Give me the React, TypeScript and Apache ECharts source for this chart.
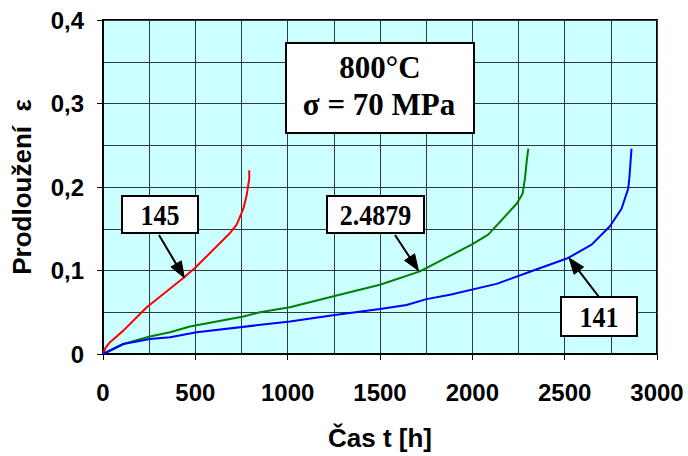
import React, { useEffect, useRef } from "react";
import * as echarts from "echarts";

const T145 = [0, 15, 38, 110, 237, 435, 498, 688, 724, 760, 778, 792, 792];
const E145 = [0, 0.008, 0.0142, 0.028, 0.056, 0.091, 0.103, 0.145, 0.155, 0.174, 0.19, 0.21, 0.22];

const T24879 = [0, 110, 254, 363, 471, 760, 850, 1012, 1265, 1500, 1716, 1996, 2086, 2240, 2272, 2285, 2294, 2303];
const E24879 = [0, 0.012, 0.021, 0.026, 0.033, 0.045, 0.05, 0.056, 0.07, 0.083, 0.099, 0.131, 0.143, 0.18, 0.192, 0.21, 0.23, 0.246];

const T141 = [0, 110, 254, 363, 507, 1012, 1265, 1500, 1644, 1752, 1879, 2131, 2312, 2519, 2646, 2745, 2808, 2844, 2850, 2862];
const E141 = [0, 0.012, 0.018, 0.02, 0.026, 0.039, 0.047, 0.054, 0.0586, 0.0657, 0.071, 0.084, 0.0985, 0.115, 0.131, 0.153, 0.174, 0.198, 0.21, 0.246];

const X_TICKS = [0, 500, 1000, 1500, 2000, 2500, 3000];
const Y_TICKS = ["0", "0,1", "0,2", "0,3", "0,4"];

const TITLE1 = "800°C";
const TITLE2 = "σ = 70 MPa";
const X_NAME = "Čas t [h]";
const Y_NAME = "Prodloužení  ε";

// annotation labels: text, box (pixels), arrow tail (pixels), arrow tip (data)
const ANNOTS = [
  { text: "145", box: [122, 196, 76, 37], tail: [159, 235], tip: [440, 0.0914] },
  { text: "2.4879", box: [327, 196, 97, 37], tail: [395, 235], tip: [1708, 0.1] },
  { text: "141", box: [561, 297, 76, 39], tail: [599, 297], tip: [2524, 0.115] },
];

const zip = (a: number[], b: number[]) => a.map((v, i) => [v, b[i]]);

export default function App() {
  const ref = useRef<HTMLDivElement>(null);
  useEffect(() => {
    if (!ref.current) return;
    const chart = echarts.init(ref.current, null, { renderer: "svg" });
    const labelFont = { fontFamily: "Liberation Sans", fontWeight: "bold" as const, fontSize: 24, color: "#000" };
    const nameFont = { fontFamily: "Liberation Sans", fontWeight: "bold" as const, fontSize: 26, color: "#000" };
    const option: any = {
      animation: false,
      grid: {
        left: 103,
        right: 31,
        top: 20,
        bottom: 99,
        show: true,
        backgroundColor: "#CCFFFF",
        borderColor: "#000",
        borderWidth: 2,
      },
      xAxis: {
        type: "value",
        min: 0,
        max: 3000,
        interval: 500,
        name: X_NAME,
        nameLocation: "middle",
        nameGap: 71,
        nameTextStyle: { ...nameFont },
        axisLine: { show: true, lineStyle: { color: "#000", width: 2 } },
        axisTick: { show: true, length: 6, lineStyle: { color: "#000" } },
        axisLabel: {
          ...labelFont,
          margin: 26,
          formatter: (v: number) => (X_TICKS.includes(v) ? String(v) : ""),
        },
        splitLine: { show: true, lineStyle: { color: "#2b3b3b", width: 1 } },
        minorTick: { show: false, splitNumber: 2 },
        minorSplitLine: { show: true, lineStyle: { color: "#2b3b3b", width: 1 } },
      },
      yAxis: {
        type: "value",
        min: 0,
        max: 0.4,
        interval: 0.1,
        name: Y_NAME,
        nameLocation: "middle",
        nameGap: 68,
        nameTextStyle: { ...nameFont },
        axisLine: { show: true, lineStyle: { color: "#000", width: 2 } },
        axisTick: { show: true, length: 6, lineStyle: { color: "#000" } },
        axisLabel: {
          ...labelFont,
          margin: 19,
          formatter: (v: number) => Y_TICKS[Math.round(v * 10)] ?? "",
        },
        splitLine: { show: true, lineStyle: { color: "#2b3b3b", width: 1 } },
        minorTick: { show: false, splitNumber: 2 },
        minorSplitLine: { show: true, lineStyle: { color: "#2b3b3b", width: 1 } },
      },
      series: [
        { name: "145", type: "line", data: zip(T145, E145), showSymbol: false, lineStyle: { color: "#FF0000", width: 2 }, z: 3 },
        { name: "2.4879", type: "line", data: zip(T24879, E24879), showSymbol: false, lineStyle: { color: "#008000", width: 2 }, z: 3 },
        { name: "141", type: "line", data: zip(T141, E141), showSymbol: false, lineStyle: { color: "#0000FF", width: 2 }, z: 3 },
      ],
    };
    chart.setOption(option);

    const elements: any[] = [];
    elements.push({
      type: "rect",
      z: 100,
      shape: { x: 286, y: 43, width: 188, height: 90 },
      style: { fill: "#fff", stroke: "#000", lineWidth: 2 },
    });
    elements.push({
      type: "text",
      z: 101,
      x: 380,
      y: 67,
      style: { text: TITLE1, align: "center", verticalAlign: "middle", fontFamily: "Liberation Serif", fontWeight: "bold", fontSize: 31, fill: "#000" },
    });
    elements.push({
      type: "text",
      z: 101,
      x: 379,
      y: 104,
      style: { text: TITLE2, align: "center", verticalAlign: "middle", fontFamily: "Liberation Serif", fontWeight: "bold", fontSize: 31, fill: "#000" },
    });

    ANNOTS.forEach((a) => {
      const [bx, by, bw, bh] = a.box;
      elements.push({
        type: "rect",
        z: 100,
        shape: { x: bx, y: by, width: bw, height: bh },
        style: { fill: "#fff", stroke: "#000", lineWidth: 2 },
      });
      elements.push({
        type: "text",
        z: 101,
        x: bx + bw / 2,
        y: by + bh / 2 + 1,
        scaleY: 1.1,
        style: { text: a.text, align: "center", verticalAlign: "middle", fontFamily: "Liberation Serif", fontWeight: "bold", fontSize: 26, fill: "#000" },
      });
      const tip = chart.convertToPixel({ gridIndex: 0 }, a.tip) as number[];
      const [sx, sy] = a.tail;
      const dx = tip[0] - sx;
      const dy = tip[1] - sy;
      const len = Math.hypot(dx, dy);
      const ux = dx / len;
      const uy = dy / len;
      const nx = -uy;
      const ny = ux;
      const L = 16;
      const W = 6;
      const bxp = tip[0] - L * ux;
      const byp = tip[1] - L * uy;
      elements.push({
        type: "line",
        z: 100,
        shape: { x1: sx, y1: sy, x2: bxp + 2 * ux, y2: byp + 2 * uy },
        style: { stroke: "#000", lineWidth: 2 },
      });
      elements.push({
        type: "polygon",
        z: 100,
        shape: { points: [[tip[0], tip[1]], [bxp + W * nx, byp + W * ny], [bxp - W * nx, byp - W * ny]] },
        style: { fill: "#000", stroke: "#000", lineWidth: 1 },
      });
    });

    chart.setOption({ graphic: { elements } });
    return () => chart.dispose();
  }, []);
  return <div ref={ref} style={{ width: 688, height: 456, position: "absolute", left: 0, top: 0 }} />;
}
